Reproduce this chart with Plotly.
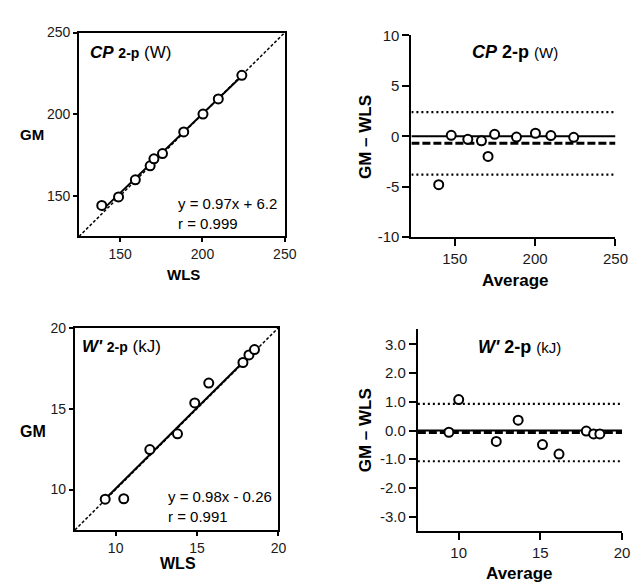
import plotly.graph_objects as go

# ---------------- data ----------------
# CP (W): scatter GM vs WLS
cp_wls = [138.8, 149.0, 159.2, 168.2, 170.5, 175.7, 188.6, 200.3, 209.6, 223.9]
cp_gm = [144.0, 149.2, 159.7, 168.3, 172.6, 175.8, 189.1, 200.0, 209.3, 223.8]
cp_fit = [0.97, 6.2]          # slope, intercept (as printed)
cp_r = "0.999"
cp_line = [0.97, 6.2]         # drawn regression line
# CP Bland-Altman
cp_avg = [140.0, 147.8, 158.1, 166.6, 170.7, 174.8, 188.4, 200.2, 209.8, 224.0]
cp_diff = [-4.8, 0.1, -0.3, -0.45, -2.0, 0.2, -0.08, 0.3, 0.07, -0.1]
cp_bias = -0.7
cp_loa = [-3.8, 2.4]

# W' (kJ): scatter GM vs WLS
wp_wls = [9.36, 10.5, 12.1, 13.8, 14.86, 15.72, 17.82, 18.19, 18.53]
wp_gm = [9.4, 9.43, 12.47, 13.44, 15.35, 16.58, 17.85, 18.32, 18.65]
wp_fit = [0.98, -0.26]        # as printed
wp_r = "0.991"
wp_line = [1.0, 0.05]         # drawn regression line
# W' Bland-Altman
wp_avg = [9.4, 10.0, 12.3, 13.64, 15.13, 16.14, 17.81, 18.26, 18.64]
wp_diff = [-0.06, 1.08, -0.38, 0.36, -0.49, -0.82, -0.02, -0.12, -0.12]
wp_bias = -0.07
wp_loa = [-1.07, 0.93]

cp_range = [125, 250]
cp_ba_xrange = [123, 250]
cp_ba_yrange = [-10, 10]
wp_range = [7.5, 20]
wp_ba_yrange = [-3.5, 3.55]

cp_ticks = [150, 200, 250]
cp_ba_yticks = [-10, -5, 0, 5, 10]
cp_ba_ylabels = ["-10", "-5", "0", "5", "10"]
wp_ticks = [10, 15, 20]
wp_ba_yticks = [-3, -2, -1, 0, 1, 2, 3]
wp_ba_ylabels = ["-3.0", "-2.0", "-1.0", "0.0", "1.0", "2.0", "3.0"]

W, H = 644, 586
FONT = "Liberation Sans, Arial, sans-serif"


def px(x):
    return x / W


def py(y):
    return 1 - y / H


fig = go.Figure()

marker = dict(symbol="circle", size=9, color="white", line=dict(color="black", width=2))


def fit_line(xs, fit):
    lo, hi = min(xs), max(xs)
    return [lo, hi], [fit[0] * lo + fit[1], fit[0] * hi + fit[1]]


def line(x, y, xa, ya, width, dash="solid"):
    fig.add_trace(go.Scatter(x=x, y=y, mode="lines", xaxis=xa, yaxis=ya,
                             line=dict(color="black", width=width, dash=dash),
                             showlegend=False, hoverinfo="skip"))


# --- Panel 1: CP scatter ---
line(cp_range, cp_range, "x", "y", 1.5, "3px,2px")
fx, fy = fit_line(cp_wls, cp_line)
line(fx, fy, "x", "y", 2)
fig.add_trace(go.Scatter(x=cp_wls, y=cp_gm, mode="markers", xaxis="x", yaxis="y",
                         marker=marker, showlegend=False))

# --- Panel 2: CP Bland-Altman ---
for lv in cp_loa:
    line(cp_ba_xrange, [lv, lv], "x2", "y2", 2.2, "2px,3px")
line(cp_ba_xrange, [0, 0], "x2", "y2", 2)
line(cp_ba_xrange, [cp_bias, cp_bias], "x2", "y2", 3, "8px,3px")
fig.add_trace(go.Scatter(x=cp_avg, y=cp_diff, mode="markers", xaxis="x2", yaxis="y2",
                         marker=marker, showlegend=False))

# --- Panel 3: W' scatter ---
line(wp_range, wp_range, "x3", "y3", 1.5, "3px,2px")
fx, fy = fit_line(wp_wls, wp_line)
line(fx, fy, "x3", "y3", 2)
fig.add_trace(go.Scatter(x=wp_wls, y=wp_gm, mode="markers", xaxis="x3", yaxis="y3",
                         marker=marker, showlegend=False))

# --- Panel 4: W' Bland-Altman ---
for lv in wp_loa:
    line(wp_range, [lv, lv], "x4", "y4", 2.2, "2px,3px")
line(wp_range, [0, 0], "x4", "y4", 2)
line(wp_range, [wp_bias, wp_bias], "x4", "y4", 3, "8px,3px")
fig.add_trace(go.Scatter(x=wp_avg, y=wp_diff, mode="markers", xaxis="x4", yaxis="y4",
                         marker=marker, showlegend=False))


def ax(domain, rng, ticks, mirror, ticklen, size, anchor, labels=None):
    d = dict(domain=domain, range=rng, tickvals=ticks, showgrid=False, zeroline=False,
             showline=True, linecolor="black", linewidth=2, mirror=mirror,
             ticks="outside", ticklen=ticklen, tickwidth=2, tickcolor="black",
             tickfont=dict(family=FONT, size=size, color="#1a1a1a"), anchor=anchor,
             fixedrange=True)
    if labels:
        d["ticktext"] = labels
    return d


fig.update_layout(
    width=W, height=H, autosize=False,
    margin=dict(l=0, r=0, t=0, b=0),
    paper_bgcolor="white", plot_bgcolor="white",
    xaxis=ax([px(72.5), px(282.5)], cp_range, cp_ticks, True, 4, 14, "y"),
    yaxis=ax([py(226), py(16)], cp_range, cp_ticks, True, 4, 14, "x"),
    xaxis2=ax([px(411.7), px(620)], cp_ba_xrange, cp_ticks, False, 7, 15, "y2"),
    yaxis2=ax([py(226.7), py(19)], cp_ba_yrange, cp_ba_yticks, False, 7, 15, "x2", cp_ba_ylabels),
    xaxis3=ax([px(68.3), px(276)], wp_range, wp_ticks, True, 4, 14, "y3"),
    yaxis3=ax([py(528.3), py(320)], wp_range, wp_ticks, True, 4, 14, "x3"),
    xaxis4=ax([px(418.3), px(626.7)], wp_range, wp_ticks, False, 7, 15, "y4"),
    yaxis4=ax([py(529.3), py(321)], wp_ba_yrange, wp_ba_yticks, False, 7, 15, "x4", wp_ba_ylabels),
)


def ann(text, x, y, size, xanchor="center", angle=0, bold=False, align="center"):
    t = f"<b>{text}</b>" if bold else text
    fig.add_annotation(text=t, x=px(x), y=py(y), xref="paper", yref="paper",
                       xanchor=xanchor, yanchor="middle", showarrow=False, textangle=angle,
                       align=align, borderpad=0,
                       font=dict(family=FONT, size=size, color="black"))


# axis titles
ann("GM", 24, 121, 15, bold=True)
ann("WLS", 179, 265, 15, bold=True)
ann("GM – WLS", 365, 124, 17, angle=-90, bold=True)
ann("Average", 517, 271, 17, bold=True)
ann("GM", 26, 427, 16, bold=True)
ann("WLS", 173, 563, 16, bold=True)
ann("GM – WLS", 365, 426, 17, angle=-90, bold=True)
ann("Average", 522, 573, 17, bold=True)

# panel titles
ann("<b><i>CP</i></b> <span style='font-size:14px'><b>2-p</b></span> (W)", 83, 37, 17, xanchor="left")
ann("<b><i>CP</i></b> <b>2-p</b> <span style='font-size:15px'>(W)</span>", 517, 36, 18)
ann("<b><i>W'</i></b> <span style='font-size:14px'><b>2-p</b></span> (kJ)", 75, 339, 17, xanchor="left")
ann("<b><i>W'</i></b> <b>2-p</b> <span style='font-size:15px'>(kJ)</span>", 522, 340, 18)

# equations
ann(f"y = {cp_fit[0]:.2f}x + {cp_fit[1]:.1f}<br>r = {cp_r}", 172, 202, 15, xanchor="left", align="left")
ann(f"y = {wp_fit[0]:.2f}x - {abs(wp_fit[1]):.2f}<br>r = {wp_r}", 162, 504, 15, xanchor="left", align="left")

fig.write_html("out.html")
